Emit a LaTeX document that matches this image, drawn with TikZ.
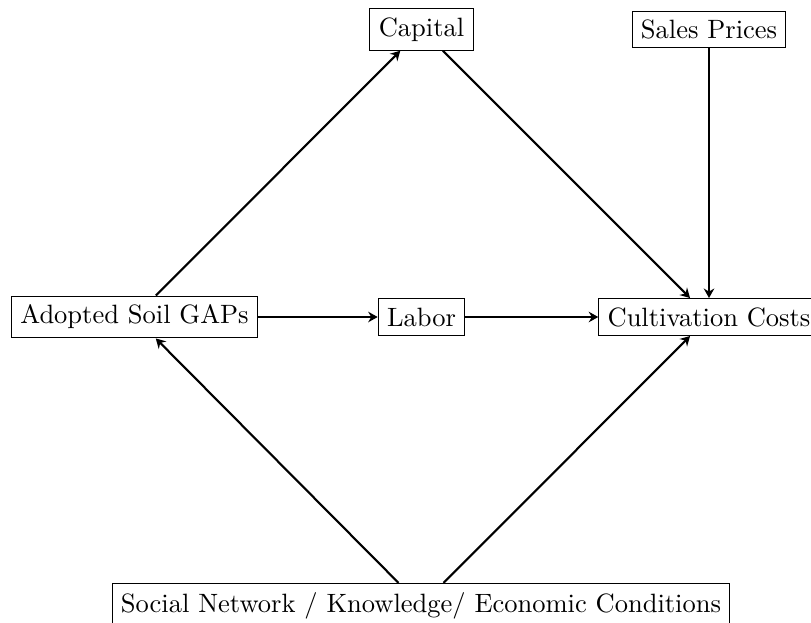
\documentclass[tikz,border=0pt]{standalone}
\usetikzlibrary{calc,arrows.meta}
\begin{document}
\begin{tikzpicture}[x=0.3772pt,y=-0.3772pt,
  box/.style={draw,rectangle,inner sep=3.33pt},
  arr/.style={-{Stealth[length=3.6pt,width=4pt,inset=1.2pt]},thick}]
\useasboundingbox (0,0) rectangle (811,622);
\node[box] (adopted) at (134.5,317) {Adopted Soil GAPs};
\node[box] (labor) at (421.5,317) {Labor};
\node[box] (cult) at (709,317) {Cultivation Costs};
\node[box] (capital) at (421.5,29.5) {Capital};
\node[box] (sales) at (709,29.5) {Sales Prices};
\node[box] (social) at (421,605.5) {Social Network / Knowledge/ Economic Conditions};
\draw[arr] (adopted) -- (capital);
\draw[arr] (capital) -- (cult);
\draw[arr] (sales) -- (cult);
\draw[arr] (adopted) -- (labor);
\draw[arr] (labor) -- (cult);
\draw[arr] (social) -- (adopted);
\draw[arr] (social) -- (cult);
\end{tikzpicture}
\end{document}
